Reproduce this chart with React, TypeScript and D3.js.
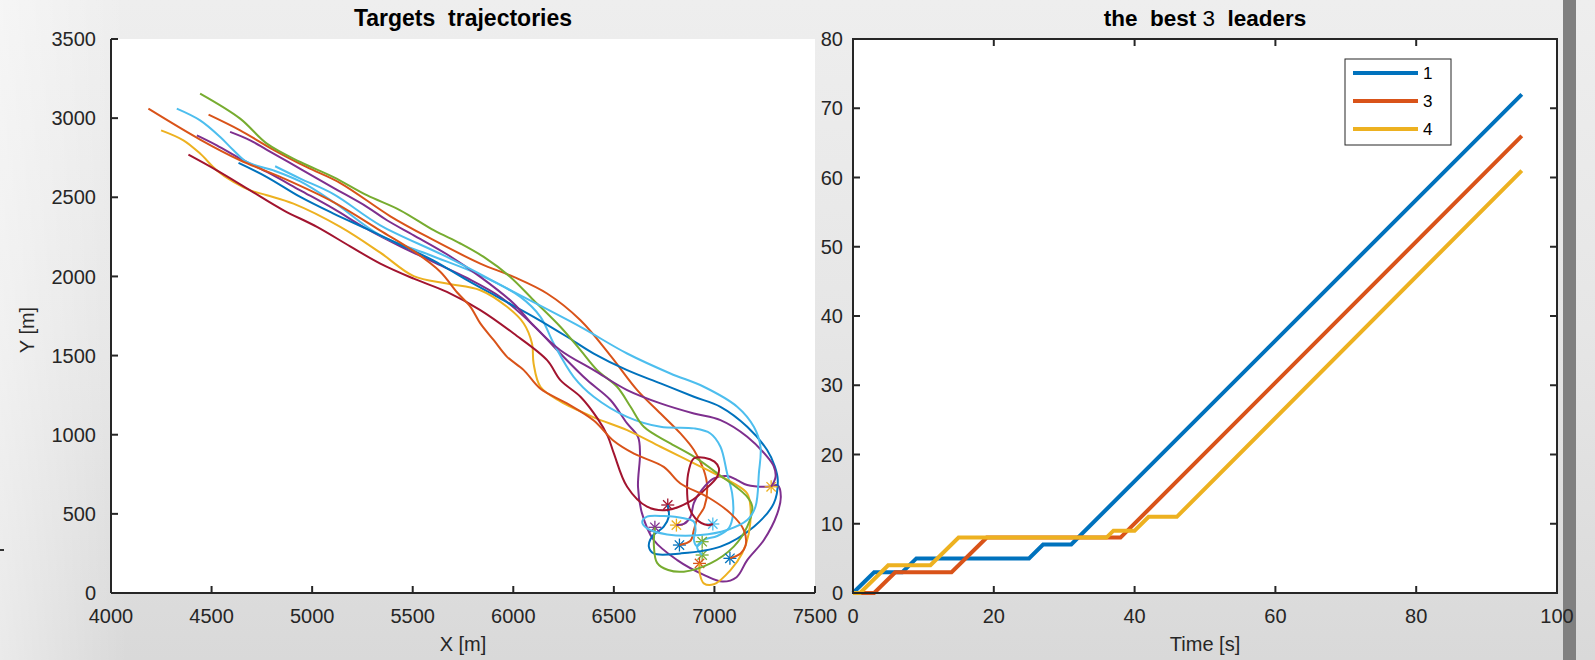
import React from 'react';
import * as d3 from 'd3';

type Pt = [number, number];

// Targets: every track starts at its '*' and runs off to the upper left (x, y in metres)
const track1: Pt[] = [[6826, 303], [6881, 330], [6898, 398], [6915, 470], [6950, 545], [6964, 671], [6947, 777], [6898, 903], [6831, 1008], [6732, 1134], [6616, 1282], [6483, 1500], [6334, 1723], [6168, 1892], [6002, 1997], [5836, 2081], [5588, 2240], [5389, 2380], [5140, 2590], [4974, 2690], [4808, 2800], [4642, 2923], [4485, 3022]];
const track2: Pt[] = [[6811, 429], [6848, 436], [6881, 482], [6898, 570], [6939, 655], [6997, 724], [7063, 739], [7113, 713], [7163, 682], [7262, 671], [7315, 680], [7330, 610], [7312, 500], [7246, 335], [7163, 208], [7110, 100], [7040, 72], [6947, 115], [6815, 208], [6698, 335], [6640, 503], [6620, 671], [6630, 882], [6620, 987], [6566, 1071], [6483, 1219], [6367, 1345], [6234, 1513], [6101, 1690], [5936, 1870], [5770, 1990], [5604, 2090], [5438, 2190], [5272, 2300], [5106, 2428], [4941, 2544], [4775, 2660], [4642, 2744], [4526, 2828], [4427, 2891]];
const track3: Pt[] = [[6939, 240], [6914, 290], [6947, 335], [7014, 360], [7072, 410], [7093, 503], [7088, 629], [7063, 756], [7030, 924], [6980, 1008], [6898, 1040], [6732, 1050], [6566, 1113], [6400, 1240], [6300, 1366], [6201, 1576], [6135, 1745], [6035, 1871], [5836, 2008], [5588, 2134], [5339, 2260], [5106, 2470], [4941, 2600], [4808, 2670], [4675, 2723], [4609, 2797], [4543, 2881], [4443, 2986], [4327, 3060]];
const track4: Pt[] = [[6768, 556], [6773, 482], [6748, 419], [6690, 356], [6674, 293], [6698, 250], [6831, 250], [7030, 293], [7196, 419], [7295, 566], [7315, 713], [7300, 800], [7262, 903], [7163, 1050], [7030, 1176], [6898, 1240], [6732, 1324], [6566, 1408], [6400, 1513], [6267, 1619], [6101, 1745], [5936, 1860], [5770, 1976], [5604, 2100], [5438, 2200], [5272, 2300], [5106, 2397], [4941, 2502], [4775, 2628], [4634, 2717]];
const track5: Pt[] = [[6926, 187], [6927, 124], [6947, 61], [6997, 55], [7080, 145], [7138, 251], [7171, 377], [7179, 545], [7163, 629], [7096, 692], [6931, 798], [6732, 924], [6566, 1029], [6400, 1110], [6234, 1210], [6135, 1303], [6101, 1450], [6093, 1576], [6052, 1703], [5969, 1808], [5836, 1913], [5670, 1955], [5505, 2002], [5339, 2150], [5140, 2313], [4907, 2460], [4775, 2513], [4692, 2544], [4609, 2597], [4526, 2670], [4443, 2776], [4360, 2860], [4249, 2923]];
const track6: Pt[] = [[6704, 415], [6699, 300], [6715, 190], [6770, 145], [6848, 135], [6980, 187], [7096, 293], [7163, 419], [7188, 545], [7163, 608], [7014, 756], [6898, 861], [6781, 945], [6649, 1050], [6583, 1177], [6516, 1303], [6417, 1408], [6334, 1534], [6234, 1682], [6101, 1850], [5985, 1997], [5853, 2123], [5737, 2208], [5604, 2292], [5438, 2418], [5272, 2513], [5106, 2628], [4941, 2723], [4775, 2839], [4642, 2997], [4443, 3155]];
const track7: Pt[] = [[6992, 436], [6964, 429], [6906, 471], [6873, 545], [6864, 671], [6873, 776], [6897, 850], [6950, 855], [7000, 830], [7022, 790], [7014, 734], [6950, 650], [6881, 580], [6765, 524], [6665, 545], [6566, 671], [6500, 882], [6470, 990], [6420, 1100], [6334, 1240], [6234, 1345], [6168, 1471], [6002, 1639], [5836, 1787], [5670, 1902], [5505, 1986], [5339, 2081], [5189, 2190], [5024, 2313], [4858, 2418], [4692, 2544], [4526, 2670], [4385, 2769]];
const track8: Pt[] = [[7077, 219], [7130, 250], [7155, 300], [7146, 398], [7080, 503], [6964, 608], [6831, 692], [6748, 797], [6600, 880], [6500, 960], [6400, 1090], [6267, 1198], [6135, 1290], [6052, 1408], [5969, 1492], [5903, 1597], [5836, 1703], [5787, 1808], [5720, 1900], [5637, 2030], [5505, 2160], [5339, 2290], [5106, 2470], [4858, 2620], [4642, 2734], [4443, 2865], [4186, 3060]];
const track9: Pt[] = [[7282, 671], [7304, 734], [7295, 800], [7262, 861], [7163, 987], [7030, 1092], [6898, 1134], [6732, 1198], [6566, 1282], [6400, 1408], [6234, 1534], [6100, 1690], [6002, 1829], [5836, 1997], [5670, 2140], [5505, 2260], [5372, 2355], [5272, 2440], [5106, 2560], [4941, 2680], [4775, 2800], [4692, 2860], [4592, 2913]];
const track10: Pt[] = [[6939, 324], [6914, 297], [6898, 335], [6906, 398], [6898, 450], [6848, 472], [6748, 486], [6665, 482], [6641, 450], [6665, 408], [6765, 370], [6931, 366], [7063, 398], [7163, 461], [7204, 545], [7221, 756], [7229, 924], [7196, 1050], [7113, 1177], [6947, 1303], [6781, 1387], [6566, 1513], [6334, 1681], [6002, 1902], [5670, 2123], [5339, 2323], [5106, 2520], [4941, 2618], [4816, 2696]];

const tracks = [track1, track2, track3, track4, track5, track6, track7, track8, track9, track10];
const trackColors = ['#D95319', '#7E2F8E', '#4DBEEE', '#0072BD', '#EDB120', '#77AC30', '#A2142F', '#D95319', '#7E2F8E', '#4DBEEE'];
const starColors = ['#0072BD', '#EDB120', '#77AC30', '#A2142F', '#D95319', '#7E2F8E', '#4DBEEE', '#0072BD', '#EDB120', '#77AC30'];

// the best leaders over time: [time s, value]
const leaderNames = ['1', '3', '4'];
const leader1: Pt[] = [[0, 0], [3, 3], [7, 3], [9, 5], [25, 5], [27, 7], [31, 7], [95, 72]];
const leader3: Pt[] = [[0, 0], [3, 0], [6, 3], [14, 3], [19, 8], [38, 8], [95, 66]];
const leader4: Pt[] = [[0, 0], [1, 0], [5, 4], [11, 4], [15, 8], [36, 8], [37, 9], [40, 9], [42, 11], [46, 11], [95, 61]];
const leaders = [leader1, leader3, leader4];
const leaderColors = ['#0072BD', '#D95319', '#EDB120'];

const xTicksL = [4000, 4500, 5000, 5500, 6000, 6500, 7000, 7500];
const yTicksL = [0, 500, 1000, 1500, 2000, 2500, 3000, 3500];
const xTicksR = [0, 20, 40, 60, 80, 100];
const yTicksR = [0, 10, 20, 30, 40, 50, 60, 70, 80];

const FONT = '"Liberation Sans", Arial, Helvetica, sans-serif';
const AX = '#262626';

function Star({ x, y, color }: { x: number; y: number; color: string }) {
  const r = 6.5, d = r * 0.72;
  return (
    <g stroke={color} strokeWidth={1.3}>
      <line x1={x - r} y1={y} x2={x + r} y2={y} />
      <line x1={x} y1={y - r} x2={x} y2={y + r} />
      <line x1={x - d} y1={y - d} x2={x + d} y2={y + d} />
      <line x1={x - d} y1={y + d} x2={x + d} y2={y - d} />
    </g>
  );
}

export default function App() {
  const top = 39, bottom = 593;
  const xL = d3.scaleLinear().domain([4000, 7500]).range([111, 815]);
  const yL = d3.scaleLinear().domain([0, 3500]).range([bottom, top]);
  const xR = d3.scaleLinear().domain([0, 100]).range([853, 1557]);
  const yR = d3.scaleLinear().domain([0, 80]).range([bottom, top]);

  const trackLine = d3.line<Pt>().x(d => xL(d[0])).y(d => yL(d[1])).curve(d3.curveCatmullRom.alpha(0.5));
  const leaderLine = d3.line<Pt>().x(d => xR(d[0])).y(d => yR(d[1]));

  const tick = 7;

  return (
    <svg width={1595} height={660} style={{ position: 'absolute', left: 0, top: 0, fontFamily: FONT }}>
      <defs>
        <linearGradient id="bg" x1="0" y1="0" x2="0" y2="1">
          <stop offset="0" stopColor="#eeeeee" />
          <stop offset="0.5" stopColor="#e6e6e6" />
          <stop offset="1" stopColor="#d9d9d9" />
        </linearGradient>
        <linearGradient id="bgl" x1="0" y1="0" x2="1" y2="0">
          <stop offset="0" stopColor="#ffffff" stopOpacity="0.45" />
          <stop offset="0.08" stopColor="#ffffff" stopOpacity="0" />
        </linearGradient>
      </defs>
      <rect width={1595} height={660} fill="url(#bg)" />
      <rect width={1595} height={660} fill="url(#bgl)" />
      <rect x={1563} y={0} width={13} height={660} fill="#808080" />
      <rect x={0} y={549} width={4} height={2} fill="#333" />

      {/* left: trajectories */}
      <rect x={xL(4000)} y={top} width={xL(7500) - xL(4000)} height={bottom - top} fill="#fff" />
      {tracks.map((t, i) => (
        <g key={i}>
          <Star x={xL(t[0][0])} y={yL(t[0][1])} color={starColors[i]} />
          <path d={trackLine(t) || ''} fill="none" stroke={trackColors[i]} strokeWidth={2} />
        </g>
      ))}
      <g stroke={AX} strokeWidth={2} fill="none">
        <line x1={xL(4000)} y1={top} x2={xL(4000)} y2={bottom} />
        <line x1={xL(4000)} y1={bottom} x2={xL(7500)} y2={bottom} />
        {xTicksL.map(v => <line key={v} x1={xL(v)} y1={bottom} x2={xL(v)} y2={bottom - tick} />)}
        {yTicksL.map(v => <line key={v} x1={xL(4000)} y1={yL(v)} x2={xL(4000) + tick} y2={yL(v)} />)}
      </g>
      <g fill={AX} fontSize={20}>
        {xTicksL.map(v => <text key={v} x={xL(v)} y={623} textAnchor="middle">{v}</text>)}
        {yTicksL.map(v => <text key={v} x={xL(4000) - 15} y={yL(v)} dy="0.36em" textAnchor="end">{v}</text>)}
        <text x={(xL(4000) + xL(7500)) / 2} y={651} textAnchor="middle">X [m]</text>
        <text transform={`translate(34,${(top + bottom) / 2 + 14}) rotate(-90)`} textAnchor="middle">Y [m]</text>
      </g>
      <text x={(xL(4000) + xL(7500)) / 2} y={26} textAnchor="middle" fontWeight="bold" fontSize={23} fill="#000" style={{ whiteSpace: 'pre' }}>Targets  trajectories</text>

      {/* right: best leaders */}
      <rect x={xR(0)} y={top} width={xR(100) - xR(0)} height={bottom - top} fill="#fff" />
      {leaders.map((l, i) => (
        <path key={i} d={leaderLine(l) || ''} fill="none" stroke={leaderColors[i]} strokeWidth={4} strokeLinejoin="miter" />
      ))}
      <g stroke={AX} strokeWidth={2} fill="none">
        <rect x={xR(0)} y={top} width={xR(100) - xR(0)} height={bottom - top} />
        {xTicksR.map(v => (
          <g key={v}>
            <line x1={xR(v)} y1={bottom} x2={xR(v)} y2={bottom - tick} />
            <line x1={xR(v)} y1={top} x2={xR(v)} y2={top + tick} />
          </g>
        ))}
        {yTicksR.map(v => (
          <g key={v}>
            <line x1={xR(0)} y1={yR(v)} x2={xR(0) + tick} y2={yR(v)} />
            <line x1={xR(100)} y1={yR(v)} x2={xR(100) - tick} y2={yR(v)} />
          </g>
        ))}
      </g>
      <g fill={AX} fontSize={20}>
        {xTicksR.map(v => <text key={v} x={xR(v)} y={623} textAnchor="middle">{v}</text>)}
        {yTicksR.map(v => <text key={v} x={xR(0) - 10} y={yR(v)} dy="0.36em" textAnchor="end">{v}</text>)}
        <text x={(xR(0) + xR(100)) / 2} y={651} textAnchor="middle">Time [s]</text>
      </g>
      <text x={(xR(0) + xR(100)) / 2} y={26} textAnchor="middle" fontSize={22.5} fill="#000" style={{ whiteSpace: 'pre' }}>
        <tspan fontWeight="bold">the  best </tspan><tspan>3</tspan><tspan fontWeight="bold">  leaders</tspan>
      </text>

      {/* legend */}
      <rect x={1345} y={59} width={106} height={86} fill="#fff" stroke={AX} strokeWidth={1} />
      {leaderNames.map((n, i) => (
        <g key={n}>
          <line x1={1353} x2={1418} y1={73 + i * 28} y2={73 + i * 28} stroke={leaderColors[i]} strokeWidth={4} />
          <text x={1423} y={73 + i * 28} dy="0.36em" fontSize={17} fill="#000">{n}</text>
        </g>
      ))}
    </svg>
  );
}
